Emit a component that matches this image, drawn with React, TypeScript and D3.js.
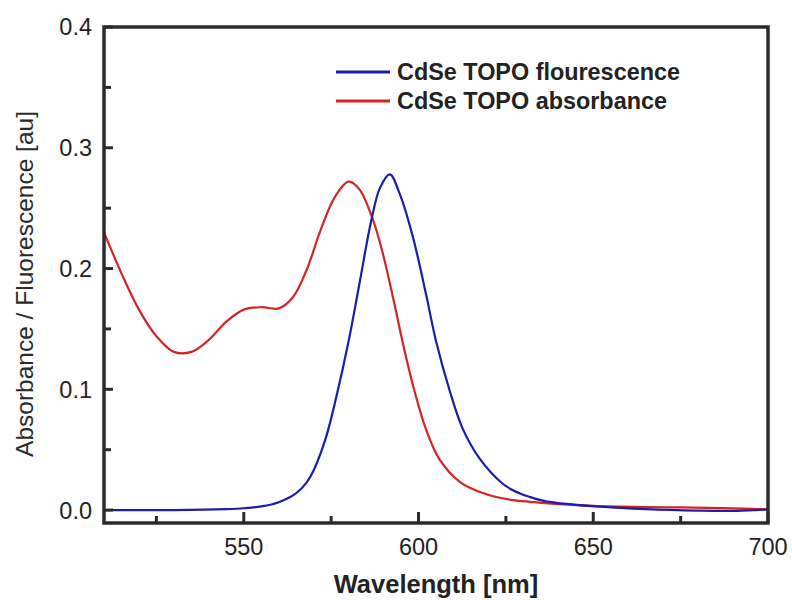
import React from "react";
import * as d3 from "d3";

const absWavelength = [510, 515, 520, 525, 530, 535, 540, 545, 550, 555, 560, 564, 568, 572, 576, 580, 583, 587, 590, 593, 596, 599, 602, 606, 612, 618, 622, 627, 632, 637, 650, 665, 675, 690, 700];
const absValues = [0.230, 0.196, 0.166, 0.144, 0.131, 0.131, 0.141, 0.156, 0.166, 0.168, 0.167, 0.176, 0.199, 0.232, 0.259, 0.272, 0.266, 0.240, 0.210, 0.172, 0.132, 0.097, 0.068, 0.042, 0.023, 0.0145, 0.011, 0.0083, 0.0068, 0.0055, 0.0035, 0.0025, 0.0022, 0.0014, 0.0006];

const fluWavelength = [510, 530, 545, 550, 555, 560, 565, 568, 570, 573.5, 576.5, 580, 583, 586.5, 589, 591.8, 594.6, 598.4, 602.2, 605, 608.9, 612.7, 617.4, 624, 627, 631.7, 636.5, 650.8, 665, 680, 691, 700];
const fluValues = [0, 0, 0.0008, 0.0015, 0.003, 0.0065, 0.014, 0.023, 0.033, 0.060, 0.094, 0.140, 0.186, 0.240, 0.267, 0.278, 0.262, 0.226, 0.178, 0.140, 0.099, 0.067, 0.043, 0.022, 0.0165, 0.011, 0.0072, 0.003, 0.0008, -0.0004, -0.0006, 0.0006];

const xTicks = [550, 600, 650, 700];
const xMinorTicks = [525, 575, 625, 675];
const yTicks = [0.0, 0.1, 0.2, 0.3, 0.4];
const yMinorTicks = [0.05, 0.15, 0.25, 0.35];

const legendLabels = ["CdSe TOPO flourescence", "CdSe TOPO absorbance"];
const seriesColors = ["#1c1cae", "#d42424"];

export default function App() {
  const W = 792, H = 600;
  const left = 104, right = 768, top = 27, bottom = 523;
  const x = d3.scaleLinear().domain([510, 700]).range([left, right]);
  const y = d3.scaleLinear().domain([-0.0107, 0.4]).range([bottom, top]);

  const line = d3.line<[number, number]>()
    .x(d => x(d[0]))
    .y(d => y(d[1]))
    .curve(d3.curveCatmullRom.alpha(0.5));

  const absPath = line(absWavelength.map((w, i) => [w, absValues[i]]) as [number, number][]) || "";
  const fluPath = line(fluWavelength.map((w, i) => [w, fluValues[i]]) as [number, number][]) || "";

  const axisColor = "#2b2b2b";
  const font = "Liberation Sans, Arial, sans-serif";

  return (
    <svg width={W} height={H} style={{ position: "absolute", left: 0, top: 0, background: "#fff" }} fontFamily={font}>
      <defs>
        <clipPath id="plotclip">
          <rect x={left} y={top} width={right - left} height={bottom - top} />
        </clipPath>
      </defs>
      <rect x={0} y={0} width={W} height={H} fill="#fff" />
      <g clipPath="url(#plotclip)" fill="none" strokeWidth={2.2}>
        <path d={absPath} stroke={seriesColors[1]} />
        <path d={fluPath} stroke={seriesColors[0]} />
      </g>
      <rect x={left} y={top} width={right - left} height={bottom - top} fill="none" stroke={axisColor} strokeWidth={3.5} />
      {xTicks.map(t => (
        <g key={"xt" + t}>
          <line x1={x(t)} x2={x(t)} y1={bottom} y2={bottom - 11} stroke={axisColor} strokeWidth={3} />
          <text x={x(t)} y={555} textAnchor="middle" fontSize={23.5} fill="#222">{t}</text>
        </g>
      ))}
      {xMinorTicks.map(t => (
        <line key={"xm" + t} x1={x(t)} x2={x(t)} y1={bottom} y2={bottom - 7} stroke={axisColor} strokeWidth={3} />
      ))}
      {yTicks.map(t => (
        <g key={"yt" + t}>
          <line x1={left} x2={left + 9} y1={y(t)} y2={y(t)} stroke={axisColor} strokeWidth={3} />
          <text x={92} y={y(t)} dy="0.36em" textAnchor="end" fontSize={23.5} fill="#222">{t.toFixed(1)}</text>
        </g>
      ))}
      {yMinorTicks.map(t => (
        <line key={"ym" + t} x1={left} x2={left + 7} y1={y(t)} y2={y(t)} stroke={axisColor} strokeWidth={3} />
      ))}
      <text x={436} y={593} textAnchor="middle" fontSize={25.5} fontWeight="bold" fill="#222">Wavelength [nm]</text>
      <text transform={`translate(33, 284) rotate(-90)`} textAnchor="middle" fontSize={24.5} fill="#2a2a2a">Absorbance / Fluorescence [au]</text>
      {legendLabels.map((lab, i) => (
        <g key={lab}>
          <line x1={336} x2={390} y1={72 + i * 29} y2={72 + i * 29} stroke={seriesColors[i]} strokeWidth={3} />
          <text x={397} y={80 + i * 29} fontSize={23.4} fontWeight="bold" fill="#222">{lab}</text>
        </g>
      ))}
    </svg>
  );
}
